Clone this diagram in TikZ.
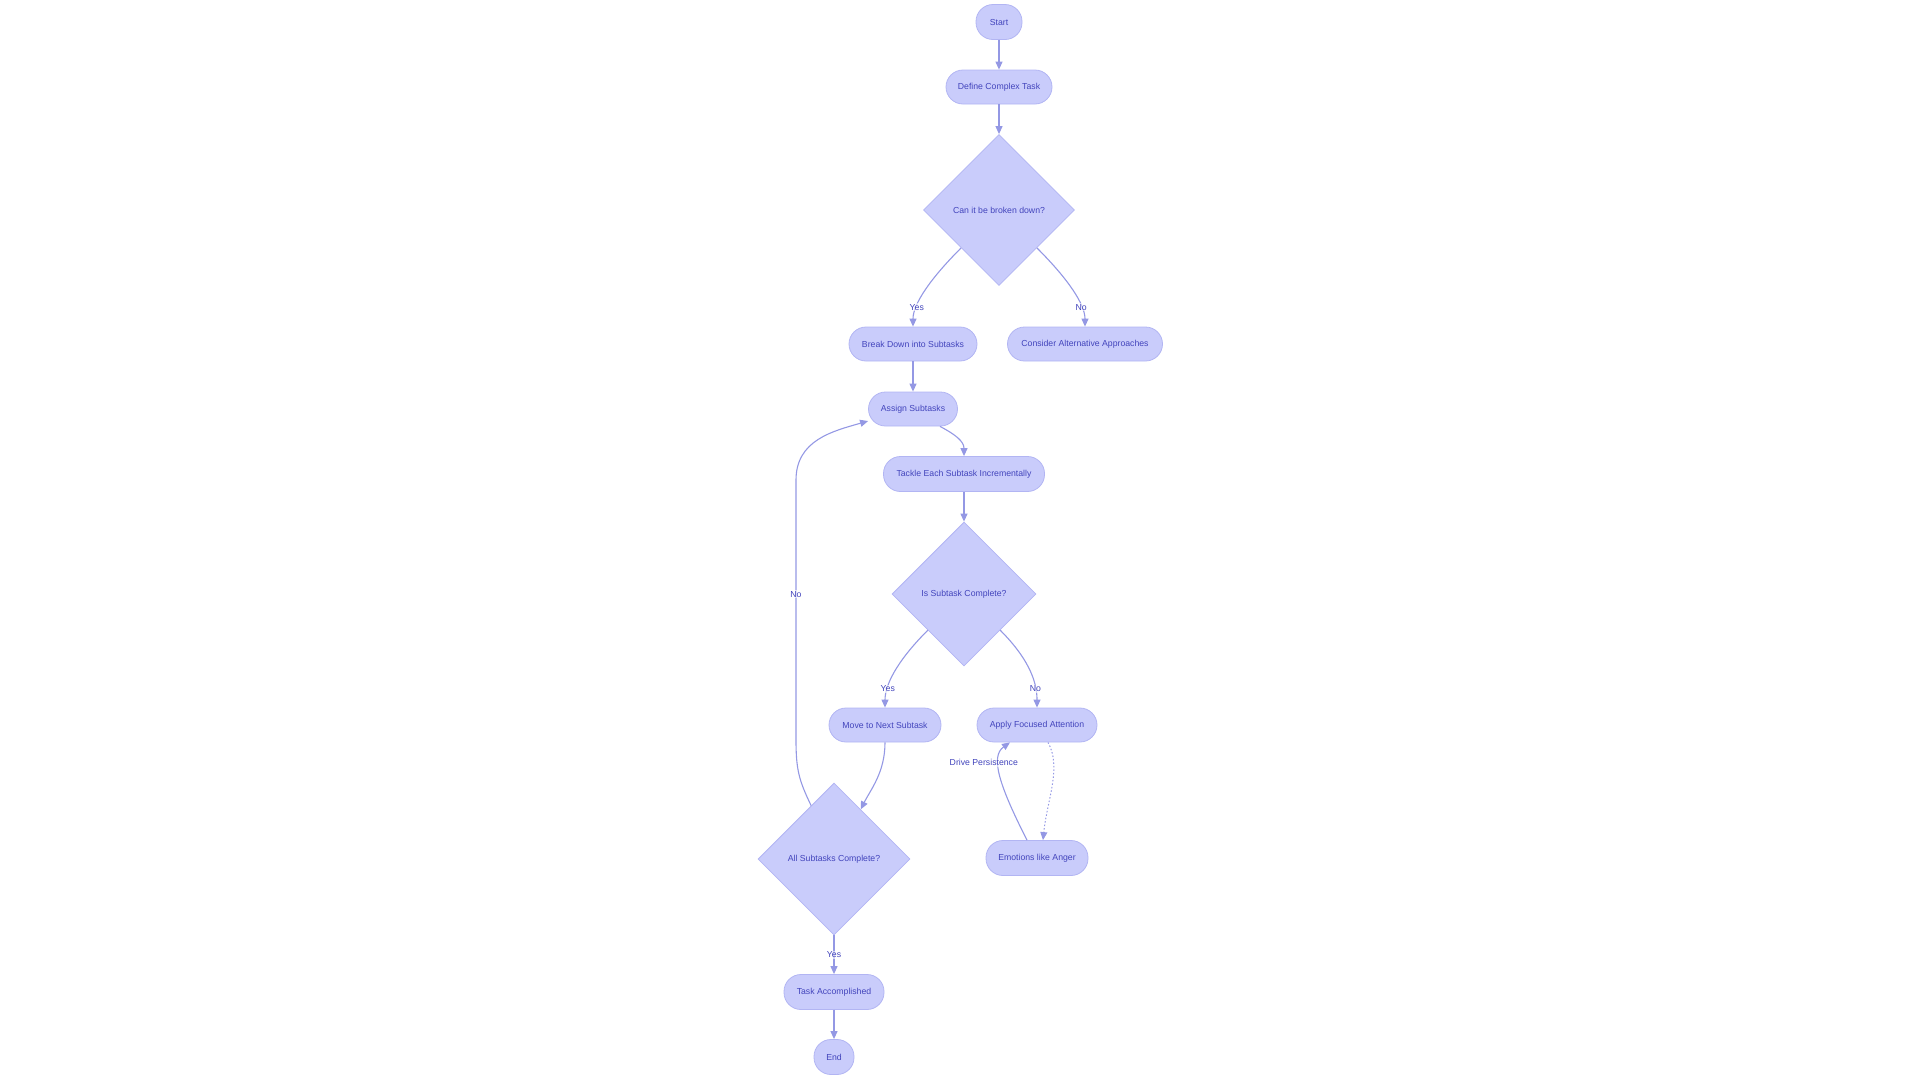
\documentclass[tikz,border=0pt]{standalone}
\usepackage{fontspec}
\setmainfont{Liberation Sans}
\usetikzlibrary{shapes.geometric,arrows.meta,calc}
\definecolor{nodefill}{RGB}{201,204,251}
\definecolor{nodedraw}{RGB}{178,181,243}
\definecolor{edgecol}{RGB}{148,152,228}
\definecolor{txt}{RGB}{66,68,188}
\begin{document}
\begin{tikzpicture}[x=1pt,y=-1pt,
  every node/.style={font=\fontsize{8.7}{10}\selectfont, text=txt},
  pill/.style={draw=nodedraw, fill=nodefill, line width=0.8pt, rounded corners=17pt, minimum height=34pt, inner sep=0pt},
  dia/.style={draw=nodedraw, fill=nodefill, line width=0.8pt, diamond, aspect=1, inner sep=0pt},
  edge/.style={draw=edgecol, line width=1.1pt, -{Triangle[length=8pt,width=7pt]}},
  dotedge/.style={draw=edgecol, line width=1pt, dash pattern=on 1.5pt off 2pt, -{Triangle[length=8pt,width=7pt]}},
  elabel/.style={fill=white, fill opacity=0.6, text opacity=1, inner sep=1pt}]
\useasboundingbox (0,0) rectangle (1920,1080);

\node[pill, minimum width=46pt, minimum height=35pt] (start) at (999,22) {Start};
\node[pill, minimum width=106pt] (define) at (999,87) {Define Complex Task};
\node[dia, minimum width=151pt, minimum height=151pt] (d1) at (999,210) {Can it be broken down?};
\node[pill, minimum width=128pt] (break) at (913,344) {Break Down into Subtasks};
\node[pill, minimum width=155pt] (consider) at (1085,344) {Consider Alternative Approaches};
\node[pill, minimum width=89pt] (assign) at (913,409) {Assign Subtasks};
\node[pill, minimum width=161pt, minimum height=35pt] (tackle) at (964,474) {Tackle Each Subtask Incrementally};
\node[dia, minimum width=144pt, minimum height=144pt] (d2) at (964,594) {Is Subtask Complete?};
\node[pill, minimum width=112pt] (move) at (885,725) {Move to Next Subtask};
\node[pill, minimum width=120pt] (apply) at (1037,725) {Apply Focused Attention};
\node[pill, minimum width=102pt, minimum height=35pt] (emotions) at (1037,858) {Emotions like Anger};
\node[dia, minimum width=152pt, minimum height=152pt] (d3) at (834,859) {All Subtasks Complete?};
\node[pill, minimum width=100pt, minimum height=35pt] (task) at (834,992) {Task Accomplished};
\node[pill, minimum width=40pt, minimum height=35pt] (end) at (834,1057) {End};

\draw[edge] (start) -- (define);
\draw[edge] (define) -- (d1);
\draw[edge] (d1.south west) .. controls +(-32,32) and +(0,-22) .. node[elabel,pos=0.72]{Yes} (break.north);
\draw[edge] (d1.south east) .. controls +(32,32) and +(0,-22) .. node[elabel,pos=0.72]{No} (consider.north);
\draw[edge] (break) -- (assign);
\draw[edge] ($(assign.south)+(27,0)$) .. controls +(15,8) and +(0,-15) .. (tackle.north);
\draw[edge] (tackle) -- (d2);
\draw[edge] (d2.south west) .. controls +(-32,32) and +(0,-22) .. node[elabel,pos=0.72]{Yes} (move.north);
\draw[edge] (d2.south east) .. controls +(32,32) and +(0,-22) .. node[elabel,pos=0.72]{No} (apply.north);
\draw[edge] (move.south) .. controls +(0,30) and +(10,-20) .. ($(d3.north)!0.35!(d3.east)$);
\draw[edge] ($(d3.north)!0.3!(d3.west)$) .. controls +(-12,-25) and +(0,30) .. (796,740)
   -- node[elabel,pos=0.56]{No} (796,480)
   .. controls +(0,-40) and +(-35,10) .. (assign.195);
\draw[edge] (d3.south) -- node[elabel]{Yes} (task.north);
\draw[edge] (task) -- (end);
\draw[dotedge] ($(apply.south)+(11,0)$) .. controls +(14,25) and +(4,-40) .. ($(emotions.north)+(6,0)$);
\draw[edge] ($(emotions.north)+(-10,0)$) .. controls +(-28,-55) and +(-20,14) .. node[elabel,pos=0.72,xshift=-16pt,yshift=-5pt]{Drive Persistence} ($(apply.south)+(-27,0)$);
\end{tikzpicture}
\end{document}
